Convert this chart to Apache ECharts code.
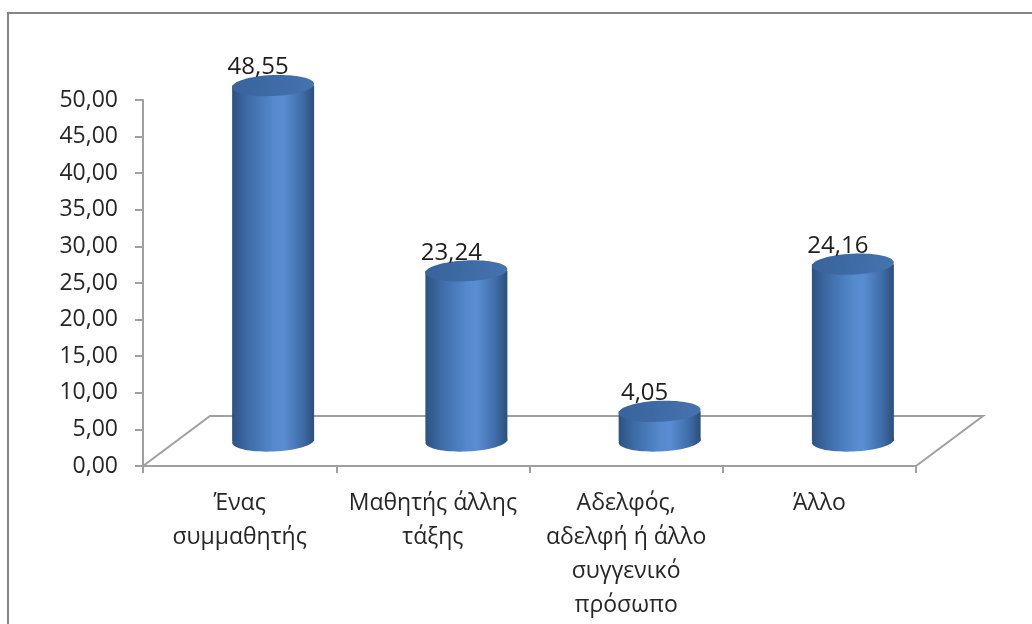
<!DOCTYPE html>
<html>
<head>
<meta charset="utf-8">
<script src="https://cdn.jsdelivr.net/npm/echarts@6/dist/echarts.min.js"></script>
<style>
html,body{margin:0;padding:0;background:#fff;}
#chart{width:1032px;height:624px;}
</style>
</head>
<body>
<div id="chart"></div>
<script>
// ---- data ----
const categories = ['Ένας\nσυμμαθητής', 'Μαθητής άλλης\nτάξης', 'Αδελφός,\nαδελφή ή άλλο\nσυγγενικό\nπρόσωπο', 'Άλλο'];
const values = [48.55, 23.24, 4.05, 24.16];
const yTicks = { min: 0, max: 50, interval: 5 };

// ---- style constants ----
const DX = 67, DY = -50;           // 3D depth offset of the floor
const FONT = '"Open Sans", sans-serif';
const AXIS_COLOR = '#a0a0a0';
const fmt = v => Number(v).toFixed(2).replace('.', ',');

const chart = echarts.init(document.getElementById('chart'), null, { renderer: 'canvas' });

const bodyGrad = new echarts.graphic.LinearGradient(0, 0, 1, 0, [
  { offset: 0, color: '#2c5283' },
  { offset: 0.18, color: '#3d6aa4' },
  { offset: 0.5, color: '#5489cd' },
  { offset: 0.62, color: '#5a8ed4' },
  { offset: 0.86, color: '#3f6ca8' },
  { offset: 1, color: '#2b4e7c' }
]);
const topGrad = new echarts.graphic.LinearGradient(0, 0, 1, 1, [
  { offset: 0, color: '#38629b' },
  { offset: 1, color: '#4574b0' }
]);

function floorItem(params, api) {
  const n = categories.length;
  const half = api.size([1, 0])[0] / 2;
  const p0 = api.coord([0, 0]);
  const p1 = api.coord([n - 1, 0]);
  const xl = p0[0] - half, xr = p1[0] + half, y = p0[1];
  return {
    type: 'polyline',
    shape: { points: [[xl, y], [xl + DX, y + DY], [xr + DX, y + DY], [xr, y]] },
    style: { stroke: AXIS_COLOR, lineWidth: 2, fill: null },
    silent: true
  };
}

function cylItem(params, api) {
  const idx = api.value(0);
  const val = api.value(1);
  const base = api.coord([idx, 0]);
  const top = api.coord([idx, val]);
  const cx = base[0] + DX / 2;
  const yb = base[1] + DY / 2;
  const yt = top[1] + DY / 2;
  const rx = 41, ry = 10.5, rot = 0.045;
  return {
    type: 'group',
    children: [
      { type: 'ellipse', shape: { cx: cx, cy: yb, rx: rx, ry: ry }, originX: cx, originY: yb, rotation: rot, style: { fill: bodyGrad } },
      { type: 'rect', shape: { x: cx - rx, y: yt, width: 2 * rx, height: yb - yt }, style: { fill: bodyGrad } },
      { type: 'ellipse', shape: { cx: cx, cy: yt, rx: rx, ry: ry }, originX: cx, originY: yt, rotation: rot, style: { fill: topGrad } },
      { type: 'text', x: cx - 15, y: yt - 18, style: { text: fmt(val), font: '24px ' + FONT, fill: '#1e1e1e', align: 'center', verticalAlign: 'middle' } }
    ]
  };
}

chart.setOption({
  animation: false,
  backgroundColor: '#ffffff',
  graphic: [{
    type: 'rect', shape: { x: 8, y: 13, width: 1100, height: 700 },
    style: { stroke: '#858585', lineWidth: 2, fill: null }, silent: true, z: 0
  }],
  grid: { left: 143, right: 116, top: 100, bottom: 158, containLabel: false },
  xAxis: {
    type: 'category',
    data: categories,
    boundaryGap: true,
    axisLine: { show: true, lineStyle: { color: AXIS_COLOR, width: 2 } },
    axisTick: { show: true, length: 7, lineStyle: { color: AXIS_COLOR, width: 2 } },
    axisLabel: { interval: 0, margin: 20, color: '#262626', fontFamily: FONT, fontSize: 23, lineHeight: 34, align: 'center' },
    splitLine: { show: false }
  },
  yAxis: {
    type: 'value',
    min: yTicks.min, max: yTicks.max, interval: yTicks.interval,
    axisLine: { show: true, lineStyle: { color: AXIS_COLOR, width: 2 } },
    axisTick: { show: true, length: 8, lineStyle: { color: AXIS_COLOR, width: 2 } },
    axisLabel: { margin: 25, color: '#262626', fontFamily: FONT, fontSize: 23, formatter: fmt },
    splitLine: { show: false }
  },
  series: [
    { type: 'custom', renderItem: floorItem, data: [[0, 0]], z: 1, silent: true },
    { type: 'custom', renderItem: cylItem, data: values.map((v, i) => [i, v]), encode: { x: 0, y: 1 }, z: 2 }
  ]
});
</script>
</body>
</html>
